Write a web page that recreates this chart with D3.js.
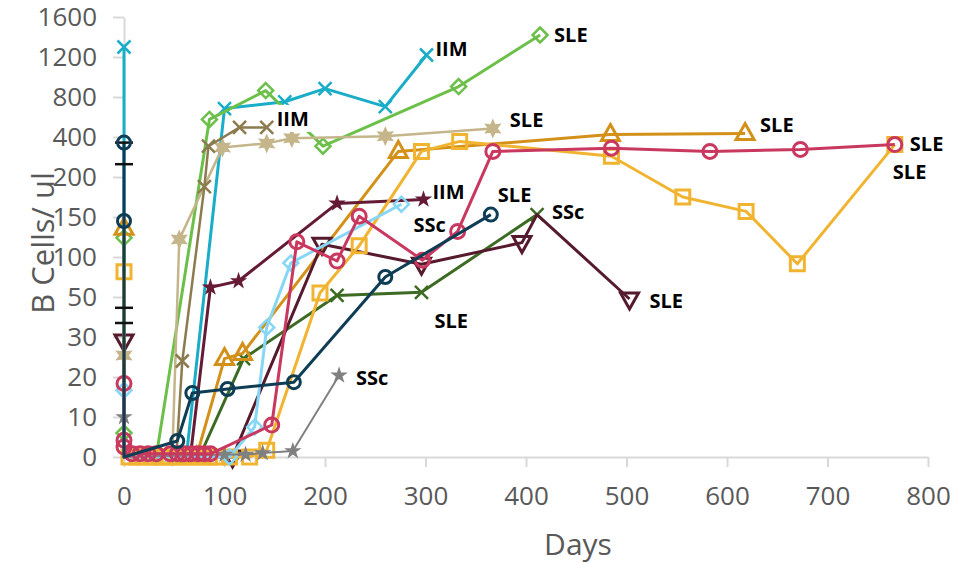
<!DOCTYPE html>
<html>
<head>
<meta charset="utf-8">
<script src="https://cdn.jsdelivr.net/npm/d3@7/dist/d3.min.js"></script>
<style>
  body { margin: 0; background: #fff; }
  text { font-family: "Open Sans", sans-serif; }
</style>
</head>
<body>
<svg width="960" height="563"></svg>
<script>
// axis ticks (the y axis is broken: every tick is evenly spaced)
var yTicks = [0, 10, 20, 30, 50, 100, 150, 200, 400, 800, 1200, 1600];
var xTicks = [0, 100, 200, 300, 400, 500, 600, 700, 800];

// each patient: values at day 0, then [day, B cells/ul] follow-ups
var cyanBase = [1300];
var cyanPts = [[62, 0], [100, 684], [160, 752], [200, 884], [260, 704], [301, 1220]];

var greenBase = [124, 6];
var greenPts = [[32, 0], [85, 576], [141, 864], [198, 354], [333, 904], [414, 1420]];

var tanBase = [25.4];
var tanPts = [[48, 0], [55, 122], [98, 348], [142, 368], [167, 394], [260, 408], [367, 484]];

var oliveBase = [];
var olivePts = [[52, 0], [58, 24], [80, 188], [84, 354], [115, 496], [142, 496]];

var dkGreenBase = [];
var dkGreenPts = [[75, 0], [119, 24.6], [212, 52], [296, 55.8], [411, 153]];

var goldBase = [136];
var goldPts = [[72, 0], [100, 24.6], [118, 25.9], [273, 328], [484, 424], [618, 434]];

var mStarBase = [];
var mStarPts = [[66, 0], [86, 62], [114, 70], [212, 167], [298, 172]];

var mTriBase = [29];
var mTriPts = [[108, 0], [197, 116], [296, 91], [396, 118], [411, 153], [503, 49]];
var mTriNoMarker = [4];

var yellowBase = [81.5];
var yellowPts = [[5, 0], [13, 0], [21, 0], [29, 0], [37, 0], [45, 0], [53, 0], [61, 0], [69, 0], [77, 0],
  [85, 0], [92, 0], [105, 0], [125, 0], [142, 1.7], [195, 55], [234, 114], [296, 328], [334, 378],
  [485, 304], [556, 175], [619, 157], [670, 91.5], [767, 362]];

var ltBlueBase = [16.7];
var ltBluePts = [[105, 0], [130, 7.5], [142, 34.8], [166, 92.5], [276, 166]];

var grayBase = [10];
var grayPts = [[100, 0.6], [121, 0.6], [138, 1], [168, 1.5], [214, 20.4]];

var magentaBase = [18.4, 4.2, 2.5];
var magentaPts = [[8, 0.8], [16, 0.8], [24, 0.8], [32, 0.8], [46, 0.8], [53, 0.8], [60, 0.8], [67, 0.8],
  [74, 0.8], [80, 0.8], [86, 0.8], [147, 8], [172, 119], [212, 95], [234, 151], [297, 96], [332, 132],
  [367, 328], [485, 344], [583, 328], [673, 338], [767, 362]];

var navyBase = [372, 145];
var navyPts = [[53, 4], [68, 16], [103, 17], [169, 18.7], [260, 75], [365, 153]];
var navyErrCaps = [372, 264, 44.6, 37];

var series = [
  {name: "cyan",    base: cyanBase,    pts: cyanPts,    color: "#19adc8", sym: "x",       w: 3},
  {name: "green",   base: greenBase,   pts: greenPts,   color: "#6cc04a", sym: "diamond", w: 3},
  {name: "tan",     base: tanBase,     pts: tanPts,     color: "#c4b58b", sym: "star6",   w: 2.5},
  {name: "olive",   base: oliveBase,   pts: olivePts,   color: "#8c7b4f", sym: "x",       w: 2.5},
  {name: "dkgreen", base: dkGreenBase, pts: dkGreenPts, color: "#3d6b24", sym: "x",       w: 3},
  {name: "gold",    base: goldBase,    pts: goldPts,    color: "#d4911a", sym: "triUp",   w: 3},
  {name: "mstar",   base: mStarBase,   pts: mStarPts,   color: "#651b36", sym: "star5",   w: 3},
  {name: "mtri",    base: mTriBase,    pts: mTriPts,    color: "#561a2d", sym: "triDown", w: 3, skip: mTriNoMarker},
  {name: "yellow",  base: yellowBase,  pts: yellowPts,  color: "#f1b431", sym: "square",  w: 3},
  {name: "ltblue",  base: ltBlueBase,  pts: ltBluePts,  color: "#86d7f6", sym: "diamond", w: 3},
  {name: "gray",    base: grayBase,    pts: grayPts,    color: "#808080", sym: "star5",   w: 2},
  {name: "magenta", base: magentaBase, pts: magentaPts, color: "#c9385f", sym: "circle",  w: 3},
  {name: "navy",    base: navyBase,    pts: navyPts,    color: "#0f3d55", sym: "circle",  w: 3}
];

// data labels: series, point index (-1 = last), text, offset
var labels = [
  ["cyan", -1, "IIM", 9, -7],
  ["green", -1, "SLE", 14, -1],
  ["olive", -1, "IIM", 10, -9],
  ["tan", -1, "SLE", 17, -9],
  ["gold", -1, "SLE", 15, -9],
  ["magenta", -1, "SLE", 15, -1],
  ["yellow", -1, "SLE", -2, 27],
  ["mstar", -1, "IIM", 9, -8],
  ["navy", -1, "SLE", 7, -20],
  ["ltblue", -1, "SSc", 12, 20],
  ["dkgreen", -1, "SSc", 15, -3],
  ["dkgreen", 3, "SLE", 13, 28],
  ["mtri", -1, "SLE", 20, 1],
  ["gray", -1, "SSc", 17, 2]
];

var svg = d3.select("svg"),
    top0 = 17, bottom0 = 457;

var x = d3.scaleLinear().domain([0, 800]).range([124, 928]);
var y = d3.scaleLinear()
    .domain(yTicks)
    .range(yTicks.map(function(d, i) { return bottom0 - i * (bottom0 - top0) / (yTicks.length - 1); }));

// axes
var gx = svg.append("g")
    .attr("transform", "translate(0," + bottom0 + ")")
    .call(d3.axisBottom(x).tickValues(xTicks).tickSize(10).tickSizeOuter(0).tickPadding(20)
      .tickFormat(d3.format("d")));
var gy = svg.append("g")
    .attr("transform", "translate(" + x(0) + ",0)")
    .call(d3.axisLeft(y).tickValues(yTicks).tickSize(11).tickSizeOuter(0).tickPadding(16)
      .tickFormat(d3.format("d")));

[gx, gy].forEach(function(g) {
  g.select(".domain").attr("stroke", "#d9d9d9").attr("stroke-width", 2);
  g.selectAll(".tick line").attr("stroke", "#d9d9d9").attr("stroke-width", 2);
  g.selectAll(".tick text").attr("fill", "#595959").style("font-size", "26px")
    .style("font-family", "'Open Sans', sans-serif");
});

svg.append("text")
    .attr("x", 578).attr("y", 543)
    .attr("text-anchor", "middle").attr("dominant-baseline", "central")
    .attr("fill", "#595959").style("font-size", "30px")
    .text("Days");

svg.append("text")
    .attr("transform", "translate(42,243) rotate(-90)")
    .attr("text-anchor", "middle").attr("dominant-baseline", "central")
    .attr("fill", "#595959").style("font-size", "31px")
    .text("B Cells/ ul");

// marker shapes
function symPath(sym, r) {
  if (sym == "circle") return d3.symbol(d3.symbolCircle, Math.PI * r * r)();
  if (sym == "square") return "M-7,-7H7V7H-7Z";
  if (sym == "diamond") return "M0,-7.5L7.5,0L0,7.5L-7.5,0Z";
  if (sym == "x") return "M-6.5,-6.5L6.5,6.5M-6.5,6.5L6.5,-6.5";
  if (sym == "triUp") return "M0,-10L9,6L-9,6Z";
  if (sym == "triDown") return "M0,10L9,-6L-9,-6Z";
  if (sym == "star5") return d3.symbol(d3.symbolStar, 95)();
  if (sym == "star6") {
    var p = [];
    for (var i = 0; i < 12; i++) {
      var rr = i % 2 ? 5 : 10, a = Math.PI * i / 6 - Math.PI / 2;
      p.push([rr * Math.cos(a), rr * Math.sin(a)]);
    }
    return "M" + p.join("L") + "Z";
  }
}

var line = d3.line()
    .x(function(d) { return x(d[0]); })
    .y(function(d) { return y(d[1]); });

var byName = {};

series.forEach(function(s) {
  byName[s.name] = s;
  var basePts = s.base.map(function(v) { return [0, v]; });
  var path = basePts.length ? basePts.concat([[0, 0]], s.pts) : s.pts;
  var skip = s.skip || [];
  var marks = basePts.concat(s.pts.filter(function(d, i) { return skip.indexOf(i) < 0; }));
  var g = svg.append("g");

  g.append("path")
      .datum(path)
      .attr("fill", "none")
      .attr("stroke", s.color)
      .attr("stroke-width", s.w)
      .attr("stroke-linejoin", "round")
      .attr("d", line);

  if (s.name == "navy") {
    navyErrCaps.forEach(function(v) {
      g.append("line")
          .attr("x1", x(0) - 9).attr("x2", x(0) + 9)
          .attr("y1", y(v)).attr("y2", y(v))
          .attr("stroke", "#111").attr("stroke-width", 2.5);
    });
  }

  var filled = s.sym == "star5" || s.sym == "star6";
  g.selectAll(".m")
      .data(marks)
    .enter().append("path")
      .attr("transform", function(d) { return "translate(" + x(d[0]) + "," + y(d[1]) + ")"; })
      .attr("d", symPath(s.sym, s.name == "magenta" ? 7 : 6.5))
      .attr("fill", filled ? s.color : "none")
      .attr("stroke", filled ? "none" : s.color)
      .attr("stroke-width", s.sym == "x" || s.sym == "diamond" ? 2.5 : 3);
});

// data labels
labels.forEach(function(l) {
  var s = byName[l[0]];
  var p = l[1] < 0 ? s.pts[s.pts.length - 1] : s.pts[l[1]];
  var t = svg.append("text")
      .attr("x", x(p[0]) + l[3])
      .attr("y", y(p[1]) + l[4])
      .attr("dominant-baseline", "central")
      .attr("fill", "#000")
      .style("font-size", "20px")
      .style("font-weight", "bold")
      .text(l[2]);
  if (l[0] == "olive") {
    var b = t.node().getBBox();
    svg.insert("rect", function() { return t.node(); })
        .attr("x", b.x - 2).attr("y", b.y)
        .attr("width", b.width + 4).attr("height", b.height)
        .attr("fill", "#fff");
  }
});
</script>
</body>
</html>
